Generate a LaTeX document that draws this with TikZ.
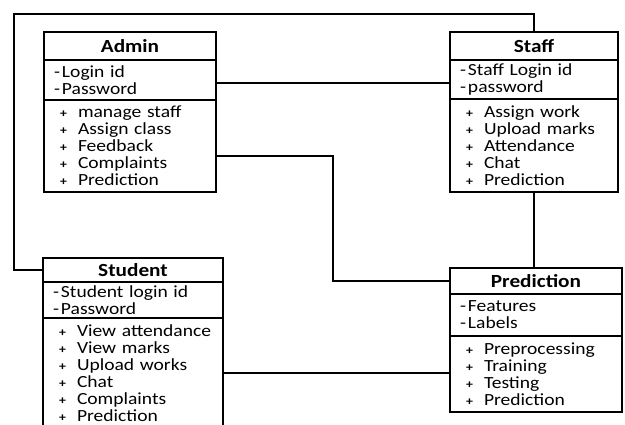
\documentclass[tikz,border=0pt]{standalone}
\usepackage{fontspec}
\setmainfont{Carlito}[FakeStretch=1.15]
\usetikzlibrary{positioning,calc}
\newcommand{\mth}{\makebox[24pt][l]{\hspace{6pt}{\fontsize{12}{12}\selectfont\bfseries+}}}
\newcommand{\att}{\makebox[8pt][l]{-}}

\begin{document}
\begin{tikzpicture}[x=1pt,y=-1pt,
    cls/.style={draw,line width=2.2pt,inner sep=0pt,outer sep=0pt},
    ttl/.style={cls,font=\fontsize{18.5}{20}\selectfont\bfseries,align=center},
    cmp/.style={cls,align=left,inner xsep=10pt,font=\fontsize{17}{17}\selectfont},
    link/.style={line width=1.4pt}]
  \useasboundingbox (0,0) rectangle (625,424);

  % Admin
  \node[ttl,minimum width=172pt,minimum height=28pt] (adminT) at (130,46) {Admin};
  \node[cmp,text width=152pt,minimum height=40pt,below=0pt of adminT] (adminA)
    {\att Login id\\\att Password};
  \node[cmp,text width=152pt,minimum height=92pt,below=0pt of adminA] (adminM)
    {\mth manage staff\\\mth Assign class\\\mth Feedback\\\mth Complaints\\\mth Prediction};

  % Staff
  \node[ttl,minimum width=168pt,minimum height=28pt] (staffT) at (534,46) {Staff};
  \node[cmp,text width=148pt,minimum height=39pt,below=0pt of staffT] (staffA)
    {\att Staff Login id\\\att password};
  \node[cmp,text width=148pt,minimum height=93pt,below=0pt of staffA] (staffM)
    {\mth Assign work\\\mth Upload marks\\\mth Attendance\\\mth Chat\\\mth Prediction};

  % Student
  \node[ttl,minimum width=180pt,minimum height=24pt] (studentT) at (133,270) {Student};
  \node[cmp,text width=160pt,minimum height=36pt,below=0pt of studentT] (studentA)
    {\att Student login id\\\att Password};
  \node[cmp,text width=160pt,minimum height=110pt,below=0pt of studentA] (studentM)
    {\mth View attendance\\\mth View marks\\\mth Upload works\\\mth Chat\\\mth Complaints\\\mth Prediction};

  % Prediction
  \node[ttl,minimum width=172pt,minimum height=26pt] (predT) at (536,281) {Prediction};
  \node[cmp,text width=152pt,minimum height=42pt,below=0pt of predT] (predA)
    {\att Features\\\att Labels};
  \node[cmp,text width=152pt,minimum height=76pt,below=0pt of predA] (predM)
    {\mth Preprocessing\\\mth Training\\\mth Testing\\\mth Prediction};

  % connectors
  \coordinate (topleft) at (14,14);
  \draw[link] (staffT.north) |- (topleft) |- (studentT.west);
  \draw[link] ([yshift=-3pt]adminA.east) -- ([yshift=-3pt]adminA.east -| staffA.west);
  \draw[link] ([yshift=-10pt]adminM.east) -| ($([yshift=-10pt]adminM.east)!0.5!(predT.west)$) |- (predT.west);
  \draw[link] (staffM.south) -- (staffM.south |- predT.north);
  \draw[link] (studentM.east) -- (studentM.east -| predM.west);
\end{tikzpicture}
\end{document}
